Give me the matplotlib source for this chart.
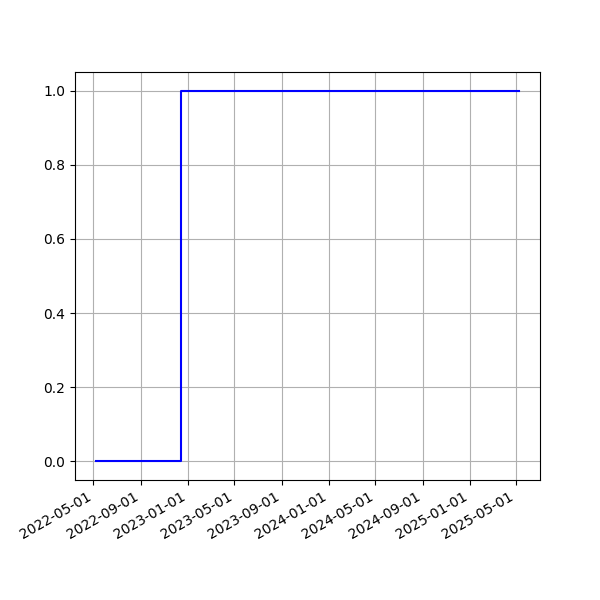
import matplotlib
matplotlib.use("Agg")
import matplotlib.pyplot as plt
import matplotlib.dates as mdates
import pandas as pd

# step points (value holds until next date)
dates = pd.to_datetime(["2022-05-08", "2022-12-14", "2025-05-08"])
values = [0, 1, 1]

fig, ax = plt.subplots(figsize=(6, 6), dpi=100)
ax.step(dates, values, where="post", color="blue")
ax.xaxis.set_major_locator(mdates.MonthLocator(bymonth=[1, 5, 9]))
ax.xaxis.set_major_formatter(mdates.DateFormatter("%Y-%m-%d"))
ax.grid(True)
fig.autofmt_xdate()
fig.savefig("out.png")
